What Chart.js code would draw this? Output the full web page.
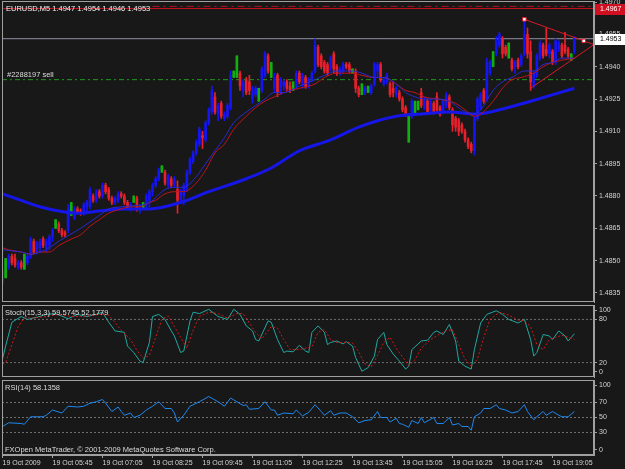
<!DOCTYPE html>
<html>
<head>
<meta charset="utf-8">
<script src="https://cdn.jsdelivr.net/npm/chart.js@4.4.0/dist/chart.umd.min.js"></script>
<style>
html, body { margin: 0; padding: 0; background: #181818; }
#wrap { position: relative; width: 625px; height: 469px; overflow: hidden; background: #181818; }
#wrap canvas { position: absolute; left: 0; top: 0; }
.lbl { position: absolute; font: 7.5px "Liberation Sans", Arial, sans-serif; color: #dcdcdc; white-space: nowrap; line-height: 9px; }
</style>
</head>
<body>
<div id="wrap">
  <canvas id="priceChart" width="625" height="469"></canvas>
  <canvas id="stochChart" width="625" height="469"></canvas>
  <canvas id="rsiChart" width="625" height="469"></canvas>
  <div class="lbl" style="left:6px;top:4px;color:#f0f0f0">EURUSD,M5 1.4947 1.4954 1.4946 1.4953</div>
  <div class="lbl" style="left:7px;top:70px">#2288197 sell</div>
  <div class="lbl" style="left:5px;top:308px">Stoch(15,3,3) 59.5745 52.1779</div>
  <div class="lbl" style="left:5px;top:383px">RSI(14) 58.1358</div>
  <div class="lbl" style="left:5px;top:445px">FXOpen MetaTrader, © 2001-2009 MetaQuotes Software Corp.</div>
</div>
<script>
// EURUSD M5, 19 Oct 2009 - one entry per bar
const opens = [
  1.4840,1.4848,1.4847,1.4852,1.4851,1.4847,1.4849,1.4848,1.4849,1.4852,
  1.4859,1.4854,1.4856,1.4860,1.4856,1.4857,1.4861,1.4867,1.4867,1.4864,
  1.4863,1.4864,1.4875,1.4870,1.4874,1.4873,1.4872,1.4875,1.4875,1.4880,
  1.4878,1.4882,1.4880,1.4885,1.4883,1.4879,1.4877,1.4878,1.4881,1.4880,
  1.4877,1.4874,1.4878,1.4879,1.4874,1.4875,1.4875,1.4878,1.4882,1.4885,
  1.4888,1.4893,1.4891,1.4885,1.4888,1.4885,1.4883,1.4878,1.4880,1.4884,
  1.4891,1.4896,1.4900,1.4904,1.4908,1.4906,1.4914,1.4919,1.4926,1.4918,
  1.4923,1.4916,1.4917,1.4921,1.4936,1.4937,1.4937,1.4929,1.4934,1.4933,
  1.4925,1.4927,1.4928,1.4929,1.4936,1.4945,1.4938,1.4930,1.4936,1.4928,
  1.4931,1.4933,1.4931,1.4931,1.4931,1.4937,1.4932,1.4935,1.4931,1.4934,
  1.4938,1.4949,1.4945,1.4942,1.4941,1.4939,1.4946,1.4940,1.4937,1.4938,
  1.4941,1.4941,1.4938,1.4938,1.4930,1.4929,1.4928,1.4929,1.4928,1.4932,
  1.4938,1.4941,1.4932,1.4933,1.4932,1.4930,1.4927,1.4928,1.4925,1.4921,
  1.4917,1.4917,1.4921,1.4922,1.4928,1.4921,1.4924,1.4920,1.4923,1.4926,
  1.4921,1.4919,1.4922,1.4926,1.4920,1.4916,1.4915,1.4913,1.4910,1.4906,
  1.4904,1.4901,1.4916,1.4921,1.4929,1.4925,1.4937,1.4944,1.4946,1.4950,
  1.4953,1.4949,1.4947,1.4943,1.4940,1.4943,1.4941,1.4946,1.4955,1.4947,
  1.4931,1.4936,1.4944,1.4950,1.4948,1.4946,1.4947,1.4942,1.4948,1.4950,
  1.4950,1.4948,1.4945,1.4947
];
const highs = [
  1.4847,1.4851,1.4853,1.4853,1.4853,1.4850,1.4850,1.4853,1.4853,1.4861,
  1.4860,1.4859,1.4860,1.4861,1.4860,1.4862,1.4865,1.4869,1.4868,1.4865,
  1.4864,1.4876,1.4877,1.4875,1.4875,1.4874,1.4877,1.4878,1.4884,1.4881,
  1.4883,1.4883,1.4886,1.4886,1.4884,1.4880,1.4880,1.4882,1.4882,1.4881,
  1.4878,1.4877,1.4880,1.4880,1.4876,1.4877,1.4881,1.4883,1.4886,1.4889,
  1.4893,1.4894,1.4892,1.4890,1.4889,1.4889,1.4887,1.4883,1.4886,1.4892,
  1.4898,1.4901,1.4906,1.4912,1.4910,1.4915,1.4921,1.4931,1.4928,1.4923,
  1.4924,1.4919,1.4923,1.4938,1.4938,1.4945,1.4938,1.4934,1.4935,1.4936,
  1.4931,1.4931,1.4930,1.4940,1.4947,1.4946,1.4942,1.4937,1.4937,1.4935,
  1.4934,1.4934,1.4933,1.4933,1.4938,1.4938,1.4937,1.4936,1.4935,1.4938,
  1.4953,1.4950,1.4946,1.4943,1.4942,1.4945,1.4947,1.4941,1.4940,1.4942,
  1.4942,1.4942,1.4939,1.4939,1.4931,1.4932,1.4931,1.4931,1.4932,1.4942,
  1.4942,1.4942,1.4935,1.4937,1.4933,1.4933,1.4931,1.4929,1.4926,1.4922,
  1.4918,1.4925,1.4924,1.4924,1.4930,1.4926,1.4925,1.4925,1.4924,1.4928,
  1.4922,1.4925,1.4928,1.4927,1.4921,1.4917,1.4916,1.4914,1.4911,1.4907,
  1.4905,1.4917,1.4926,1.4928,1.4930,1.4944,1.4943,1.4947,1.4954,1.4956,
  1.4954,1.4950,1.4951,1.4944,1.4943,1.4944,1.4946,1.4962,1.4958,1.4952,
  1.4938,1.4946,1.4952,1.4951,1.4958,1.4951,1.4948,1.4953,1.4952,1.4951,
  1.4956,1.4949,1.4946,1.4954
];
const lows = [
  1.4839,1.4842,1.4846,1.4848,1.4847,1.4846,1.4846,1.4846,1.4848,1.4851,
  1.4853,1.4853,1.4854,1.4856,1.4854,1.4855,1.4859,1.4865,1.4863,1.4861,
  1.4861,1.4863,1.4871,1.4869,1.4872,1.4871,1.4871,1.4873,1.4874,1.4877,
  1.4877,1.4879,1.4879,1.4881,1.4878,1.4876,1.4876,1.4877,1.4879,1.4876,
  1.4874,1.4873,1.4877,1.4873,1.4872,1.4874,1.4874,1.4875,1.4880,1.4884,
  1.4887,1.4891,1.4885,1.4884,1.4884,1.4884,1.4872,1.4877,1.4876,1.4882,
  1.4890,1.4895,1.4899,1.4903,1.4902,1.4905,1.4913,1.4918,1.4918,1.4915,
  1.4916,1.4915,1.4916,1.4920,1.4935,1.4935,1.4929,1.4926,1.4927,1.4927,
  1.4923,1.4926,1.4924,1.4928,1.4935,1.4937,1.4935,1.4928,1.4926,1.4927,
  1.4929,1.4929,1.4928,1.4929,1.4930,1.4932,1.4930,1.4930,1.4930,1.4933,
  1.4937,1.4940,1.4939,1.4937,1.4936,1.4938,1.4937,1.4936,1.4936,1.4937,
  1.4939,1.4937,1.4937,1.4928,1.4926,1.4927,1.4927,1.4928,1.4927,1.4931,
  1.4935,1.4933,1.4931,1.4932,1.4926,1.4926,1.4926,1.4924,1.4919,1.4917,
  1.4905,1.4916,1.4918,1.4920,1.4921,1.4920,1.4918,1.4919,1.4918,1.4919,
  1.4917,1.4918,1.4921,1.4920,1.4910,1.4910,1.4908,1.4909,1.4905,1.4902,
  1.4900,1.4899,1.4915,1.4920,1.4923,1.4924,1.4936,1.4940,1.4945,1.4949,
  1.4944,1.4945,1.4944,1.4938,1.4937,1.4939,1.4940,1.4945,1.4944,1.4929,
  1.4930,1.4935,1.4943,1.4944,1.4945,1.4944,1.4941,1.4941,1.4947,1.4944,
  1.4946,1.4944,1.4943,1.4946
];
const closes = [
  1.4845,1.4848,1.4852,1.4849,1.4848,1.4849,1.4847,1.4848,1.4852,1.4860,
  1.4854,1.4858,1.4859,1.4857,1.4859,1.4861,1.4864,1.4867,1.4864,1.4862,
  1.4862,1.4874,1.4875,1.4874,1.4872,1.4872,1.4876,1.4877,1.4883,1.4878,
  1.4882,1.4880,1.4885,1.4882,1.4879,1.4877,1.4879,1.4881,1.4880,1.4877,
  1.4875,1.4876,1.4878,1.4874,1.4875,1.4875,1.4880,1.4882,1.4885,1.4888,
  1.4892,1.4893,1.4886,1.4889,1.4885,1.4888,1.4878,1.4882,1.4885,1.4891,
  1.4897,1.4900,1.4905,1.4911,1.4907,1.4914,1.4920,1.4929,1.4919,1.4922,
  1.4917,1.4918,1.4922,1.4936,1.4936,1.4937,1.4931,1.4933,1.4928,1.4929,
  1.4929,1.4930,1.4928,1.4939,1.4946,1.4938,1.4938,1.4935,1.4928,1.4934,
  1.4933,1.4930,1.4929,1.4931,1.4937,1.4933,1.4936,1.4931,1.4934,1.4937,
  1.4950,1.4941,1.4940,1.4938,1.4937,1.4944,1.4939,1.4937,1.4939,1.4941,
  1.4940,1.4938,1.4938,1.4930,1.4927,1.4929,1.4930,1.4929,1.4931,1.4941,
  1.4941,1.4934,1.4934,1.4936,1.4927,1.4928,1.4930,1.4925,1.4920,1.4918,
  1.4917,1.4924,1.4921,1.4922,1.4922,1.4925,1.4919,1.4924,1.4919,1.4920,
  1.4918,1.4924,1.4927,1.4921,1.4913,1.4912,1.4910,1.4910,1.4906,1.4903,
  1.4901,1.4916,1.4925,1.4927,1.4924,1.4942,1.4942,1.4944,1.4952,1.4955,
  1.4946,1.4946,1.4947,1.4939,1.4942,1.4940,1.4945,1.4955,1.4946,1.4933,
  1.4937,1.4945,1.4951,1.4945,1.4946,1.4950,1.4942,1.4952,1.4951,1.4945,
  1.4947,1.4945,1.4945,1.4953
];

// moving averages: [bar, price]
const maRed = [
  [0,1.4856],[2,1.4855],[6,1.4854],[9,1.4853],[12,1.4854],[15,1.4854],[18,1.4857],[22,1.4860],
  [25,1.4862],[28,1.4866],[31,1.4869],[34,1.4872],[38,1.4874],[41,1.4875],[44,1.4875],[47,1.4877],
  [49,1.4878],[52,1.4881],[55,1.4882],[58,1.4882],[62,1.4886],[65,1.4892],[68,1.4900],[71,1.4904],
  [74,1.4911],[78,1.4917],[81,1.4921],[84,1.4924],[87,1.4926],[90,1.4928],[95,1.4930],[100,1.4932],
  [103,1.4935],[107,1.4937],[112,1.4937],[115,1.4936],[119,1.4935],[122,1.4935],[126,1.4932],[129,1.4929],
  [132,1.4928],[135,1.4926],[139,1.4925],[143,1.4924],[145,1.4923],[148,1.4920],[151,1.4917],[153,1.4918],
  [157,1.4924],[160,1.4930],[163,1.4934],[166,1.4935],[170,1.4937],[173,1.4940],[176,1.4942],[179,1.4943],
  [183,1.4944]
];
const maBlue = [
  [0,1.4855],[6,1.4854],[9,1.4853],[12,1.4854],[15,1.4856],[18,1.4859],[25,1.4865],[31,1.4871],
  [34,1.4874],[38,1.4875],[47,1.4877],[52,1.4883],[55,1.4884],[58,1.4884],[62,1.4889],[65,1.4895],
  [68,1.4901],[71,1.4907],[74,1.4914],[78,1.4919],[81,1.4922],[84,1.4925],[87,1.4928],[90,1.4928],
  [95,1.4931],[100,1.4934],[103,1.4936],[107,1.4938],[112,1.4938],[115,1.4937],[119,1.4935],[122,1.4935],
  [126,1.4932],[129,1.4928],[132,1.4926],[135,1.4925],[139,1.4925],[143,1.4924],[145,1.4922],[148,1.4919],
  [151,1.4918],[153,1.4920],[157,1.4929],[160,1.4933],[163,1.4935],[167,1.4938],[170,1.4938],[173,1.4941],
  [176,1.4942],[179,1.4944],[183,1.4944]
];
const maSlow = [
  [0,1.4881],[6,1.4878],[12,1.4875],[18,1.4873],[24,1.4872],[31,1.4873],[38,1.4874],[47,1.4874],
  [57,1.4877],[66,1.4882],[78,1.4888],[86,1.4893],[95,1.4901],[105,1.4906],[114,1.4912],[126,1.4917],
  [134,1.4918],[143,1.4919],[151,1.4918],[159,1.4920],[169,1.4924],[183,1.4930]
];

// Stochastic (15,3,3) and RSI(14): [bar, value]
const stochMain = [
  [0,25],[1,43],[3,76],[6,84],[8,80],[11,83],[14,87],[17,88],[21,81],[24,87],[27,84],[30,87],
  [32,90],[34,76],[36,64],[39,62],[40,43],[42,34],[44,22],[45,20],[47,48],[48,84],[50,87],[52,80],
  [54,64],[55,57],[57,34],[58,36],[60,78],[61,90],[63,88],[66,94],[69,84],[72,80],[74,94],[76,87],
  [78,71],[80,64],[81,52],[82,50],[85,78],[86,76],[88,52],[90,34],[91,36],[93,35],[95,44],[97,36],
  [98,34],[99,62],[101,71],[103,62],[104,45],[105,48],[107,50],[109,46],[110,49],[112,43],[113,27],
  [115,8],[117,13],[119,29],[120,52],[122,62],[123,45],[125,32],[127,22],[129,11],[130,15],[131,38],
  [134,50],[136,51],[138,62],[139,64],[141,59],[143,73],[145,50],[146,22],[148,15],[150,11],[151,38],
  [153,75],[155,87],[158,92],[160,87],[162,80],[165,75],[167,80],[169,52],[170,29],[171,34],[173,59],
  [175,57],[176,52],[178,64],[180,57],[181,50],[183,60]
];
const stochSignal = [
  [0,18],[1,20],[3,45],[5,70],[7,82],[10,82],[14,84],[18,87],[22,84],[25,84],[28,85],[31,87],
  [34,86],[36,76],[38,65],[41,52],[43,37],[45,26],[47,30],[49,55],[51,80],[53,85],[55,70],[57,55],
  [59,40],[61,65],[63,84],[66,90],[69,88],[72,82],[75,88],[77,88],[79,75],[81,62],[83,53],[86,70],
  [88,68],[90,52],[92,38],[95,38],[97,40],[99,42],[101,62],[103,66],[105,52],[107,48],[110,48],
  [112,47],[114,35],[116,18],[118,14],[120,30],[122,48],[124,55],[126,40],[128,28],[130,16],[132,24],
  [134,40],[137,52],[140,60],[142,64],[144,66],[146,45],[148,25],[150,15],[152,25],[154,55],[156,80],
  [159,90],[162,86],[165,79],[167,78],[169,70],[171,45],[173,38],[175,52],[177,55],[179,58],[181,55],
  [183,52]
];
const rsi = [
  [0,38],[2,43],[6,42],[7,41],[9,51],[11,51],[13,51],[14,53],[16,60],[19,56],[21,65],[24,64],
  [26,65],[28,69],[30,71],[32,74],[33,69],[35,58],[37,64],[38,58],[39,53],[41,56],[42,50],[44,53],
  [46,60],[48,65],[50,71],[52,62],[54,62],[55,56],[56,44],[58,53],[60,65],[63,71],[66,78],[69,71],
  [71,65],[73,76],[75,71],[77,66],[78,67],[79,61],[82,62],[84,71],[86,60],[87,60],[88,53],[90,56],
  [93,55],[94,60],[96,52],[98,57],[100,67],[102,58],[103,53],[105,59],[106,53],[108,56],[110,56],
  [112,51],[114,43],[116,46],[118,47],[120,58],[121,50],[123,50],[124,44],[126,49],[127,42],[128,41],
  [130,37],[131,46],[133,42],[134,50],[135,43],[138,50],[139,42],[141,42],[143,50],[144,40],[146,42],
  [147,38],[149,38],[150,33],[151,51],[153,56],[154,62],[156,62],[158,67],[159,62],[161,60],[163,56],
  [165,58],[167,67],[168,58],[170,47],[171,51],[173,58],[174,53],[176,58],[178,53],[179,51],[181,51],
  [183,58]
];

// axes and levels
const priceTicks = [1.4835,1.4850,1.4865,1.4880,1.4895,1.4910,1.4925,1.4940,1.4955,1.4970];
const stochTicks = [100, 80, 20, 0];
const rsiTicks = [100, 70, 50, 30, 0];
const stochLevels = [80, 20];
const rsiLevels = [70, 50, 30];
const timeLabels = ['19 Oct 2009','19 Oct 05:45','19 Oct 07:05','19 Oct 08:25','19 Oct 09:45','19 Oct 11:05',
                    '19 Oct 12:25','19 Oct 13:45','19 Oct 15:05','19 Oct 16:25','19 Oct 17:45','19 Oct 19:05'];
const BARS_PER_LABEL = 16;

// lines and objects on the price window
const bidPrice = 1.4953;
const stopPrice = 1.4967;
const upperDashPrice = 1.4968;
const orderPrice = 1.4934;
const triangleTop = [[167, 1.4962], [186, 1.4952]];
const triangleBottom = [[169, 1.4930], [186, 1.4947]];

const X_MIN = -0.16, X_MAX = 189.28;
const PRICE_MAX = 1.49705, PRICE_MIN = 1.48308;

const UP = '#1414f5', DOWN = '#e8202c', DOJI = '#10b010';
const FRAME = '#a0a0a0', TEXT = '#d4d4d4', LEVEL = '#6e6e6e';
const FONT = { family: '"Liberation Sans", Arial, sans-serif', size: 7 };

function candleColor(i) {
    if (closes[i] > opens[i]) return UP;
    if (closes[i] < opens[i]) return DOWN;
    return DOJI;
}

const pts = (arr) => arr.map(([x, y]) => ({ x, y }));
const flat = (y, from = X_MIN) => [{ x: from, y }, { x: X_MAX, y }];

// extend a two-point trend line to the right edge (ray)
function ray(pair) {
    const [[x1, y1], [x2, y2]] = pair;
    const slope = (y2 - y1) / (x2 - x1);
    return [{ x: x1, y: y1 }, { x: x2, y: y2 }, { x: X_MAX, y: y2 + slope * (X_MAX - x2) }];
}

const panelFrame = {
    id: 'panelFrame',
    afterDraw(chart) {
        const { ctx, chartArea: a } = chart;
        ctx.save();
        ctx.strokeStyle = FRAME;
        ctx.lineWidth = 1;
        ctx.strokeRect(Math.round(a.left) + 0.5, Math.round(a.top) + 0.5,
                       Math.round(a.right - a.left) - 1, Math.round(a.bottom - a.top) - 1);
        ctx.restore();
    }
};

const priceTags = {
    id: 'priceTags',
    afterDraw(chart) {
        const { ctx, chartArea: a } = chart;
        const y = chart.scales.y;
        const tag = (price, bg, fg) => {
            const py = Math.round(y.getPixelForValue(price));
            ctx.fillStyle = bg;
            ctx.fillRect(a.right + 1, py - 5, 31, 11);
            ctx.fillStyle = fg;
            ctx.font = '7px "Liberation Sans", Arial, sans-serif';
            ctx.textBaseline = 'middle';
            ctx.textAlign = 'left';
            ctx.fillText(price.toFixed(4), a.right + 6, py + 0.5);
        };
        ctx.save();
        tag(stopPrice, '#d01020', '#ffffff');
        tag(bidPrice, '#ffffff', '#000000');
        ctx.restore();
    }
};

function xScale(show) {
    return {
        type: 'linear', min: X_MIN, max: X_MAX, offset: false, display: show,
        grid: { drawOnChartArea: false, color: FRAME, tickLength: 3 },
        border: { color: FRAME },
        ticks: { color: TEXT, font: FONT, align: 'start', padding: 1, maxRotation: 0, autoSkip: false,
                 callback: (v, i) => timeLabels[i] },
        afterBuildTicks: (s) => { s.ticks = timeLabels.map((_, i) => ({ value: i * BARS_PER_LABEL })); },
        afterFit: (s) => { s.height = show ? 14 : 0; s.paddingLeft = 0; s.paddingRight = 0; }
    };
}

function yScale(min, max, ticks, fmt, clampLo, clampHi) {
    return {
        type: 'linear', position: 'right', min, max,
        grid: { drawOnChartArea: false, color: FRAME, tickLength: 3 },
        border: { color: FRAME },
        ticks: { color: TEXT, font: FONT, padding: 2, autoSkip: false, callback: (v, i) => fmt(ticks[i]) },
        afterBuildTicks: (s) => {
            s.ticks = ticks.map((v) => ({ value: Math.min(clampHi, Math.max(clampLo, v)) }));
        },
        afterFit: (s) => { s.width = 31; s.paddingTop = 0; s.paddingBottom = 0; }
    };
}

function baseOptions(padding, scales) {
    return {
        responsive: false,
        animation: false,
        events: [],
        layout: { padding, autoPadding: false },
        plugins: { legend: { display: false }, tooltip: { enabled: false } },
        scales
    };
}

const lineDs = (data, color, width, extra = {}) => Object.assign({
    type: 'line', data, borderColor: color, borderWidth: width, pointRadius: 0, fill: false, order: 1
}, extra);

// ---- price window ----
const barIdx = closes.map((_, i) => i);
const dojiIdx = barIdx.filter((i) => opens[i] === closes[i]);

new Chart(document.getElementById('priceChart'), {
    type: 'line',
    data: {
        datasets: [
            lineDs(flat(orderPrice), '#1c9a1c', 1, { borderDash: [5, 3, 2, 3], order: 5 }),
            lineDs(flat(bidPrice), '#9090a4', 1, { order: 5 }),
            lineDs(flat(stopPrice), '#c8101e', 1, { order: 5 }),
            lineDs(flat(upperDashPrice, 48), '#b01020', 1, { borderDash: [7, 4, 2, 4], order: 5 }),
            {
                type: 'bar', data: barIdx.map((i) => ({ x: i, y: [lows[i], highs[i]] })),
                backgroundColor: (c) => candleColor(c.dataIndex), barThickness: 1, grouped: false, order: 4
            },
            {
                type: 'bar', data: barIdx.map((i) => ({ x: i, y: [opens[i], closes[i]] })),
                backgroundColor: (c) => candleColor(c.dataIndex), barThickness: 2, grouped: false, order: 3
            },
            {
                type: 'bar', data: dojiIdx.map((i) => ({ x: i, y: [lows[i], highs[i]] })),
                backgroundColor: DOJI, barThickness: 2, grouped: false, order: 3
            },
            lineDs(pts(maSlow), '#1616e8', 3, { cubicInterpolationMode: 'monotone', order: 2 }),
            lineDs(pts(maBlue), '#2a2ad0', 1, { cubicInterpolationMode: 'monotone' }),
            lineDs(pts(maRed), '#c0141c', 1, { cubicInterpolationMode: 'monotone' }),
            lineDs(ray(triangleTop), '#d81a2a', 1, {
                pointRadius: (c) => (c.dataIndex < 2 ? 2.5 : 0), pointStyle: 'rect',
                pointBackgroundColor: '#ffffff', pointBorderColor: '#e01828', pointBorderWidth: 1, order: 0
            }),
            lineDs(ray(triangleBottom), '#d81a2a', 1, { order: 0 })
        ]
    },
    options: baseOptions({ left: 2, top: 1, right: 0, bottom: 469 - 302 }, {
        x: xScale(false),
        y: yScale(PRICE_MIN, PRICE_MAX, priceTicks, (v) => v.toFixed(4), 0, 9)
    }),
    plugins: [panelFrame, priceTags]
});

// ---- stochastic window ----
new Chart(document.getElementById('stochChart'), {
    type: 'line',
    data: {
        datasets: [
            ...stochLevels.map((v) => lineDs(flat(v), LEVEL, 1, { borderDash: [2, 2], order: 5 })),
            lineDs(pts(stochSignal), '#d41818', 1, { borderDash: [2, 2] }),
            lineDs(pts(stochMain), '#20a8a0', 1)
        ]
    },
    options: baseOptions({ left: 2, top: 305, right: 0, bottom: 469 - 377 }, {
        x: xScale(false),
        y: yScale(0, 100, stochTicks, (v) => String(v), 7, 93)
    }),
    plugins: [panelFrame]
});

// ---- RSI window ----
new Chart(document.getElementById('rsiChart'), {
    type: 'line',
    data: {
        datasets: [
            ...rsiLevels.map((v) => lineDs(flat(v), LEVEL, 1, { borderDash: [2, 2], order: 5 })),
            lineDs(pts(rsi), '#1e88f0', 1)
        ]
    },
    options: baseOptions({ left: 2, top: 380, right: 0, bottom: 0 }, {
        x: xScale(true),
        y: yScale(0, 100, rsiTicks, (v) => String(v), 7, 93)
    }),
    plugins: [panelFrame]
});
</script>
</body>
</html>
